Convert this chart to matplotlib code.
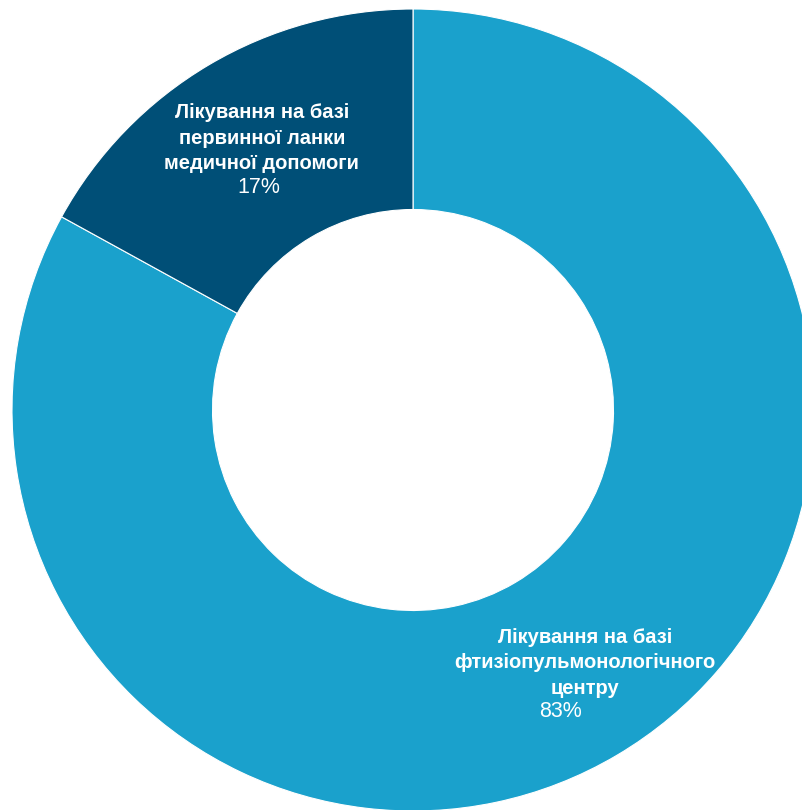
import matplotlib.pyplot as plt
import numpy as np

plt.rcParams['font.family'] = ['Liberation Sans', 'DejaVu Sans']

# --- Data ---
labels = [
    "Лікування на базі\nфтизіопульмонологічного\nцентру",
    "Лікування на базі\nпервинної ланки\nмедичної допомоги",
]
shares = [83, 17]
colors = ["#1aa1cc", "#004f77"]

# --- Figure in pixel units ---
W, H = 803, 810
fig = plt.figure(figsize=(W / 100, H / 100), dpi=100)
ax = fig.add_axes([0, 0, 1, 1])

cx, cy, R = 413, 400, 401
wedges, _ = ax.pie(shares, colors=colors, startangle=90, counterclock=False,
                   center=(cx, cy), radius=R, frame=True,
                   wedgeprops=dict(width=R * 0.5, edgecolor="white", linewidth=0.8))
ax.set_xlim(0, W)
ax.set_ylim(0, H)
ax.set_aspect("equal")
ax.axis("off")

# label anchor per slice (radius fraction) and pixel shifts of name / % lines
label_r = [0.77, 0.75]
name_dx = [15, 2]
pct_dx = [-10, -1]

for w, lab, val, r, ndx, pdx in zip(wedges, labels, shares, label_r, name_dx, pct_dx):
    mid = np.deg2rad((w.theta1 + w.theta2) / 2)
    x = cx + r * R * np.cos(mid)
    y = cy + r * R * np.sin(mid)
    ax.text(x + ndx, y + 13, lab, ha="center", va="center", color="white",
            fontsize=14.5, fontweight="bold", linespacing=1.42)
    ax.text(x + pdx, y - 36, f"{val}%", ha="center", va="center", color="white",
            fontsize=15.5)

fig.savefig("out.png", dpi=100)
